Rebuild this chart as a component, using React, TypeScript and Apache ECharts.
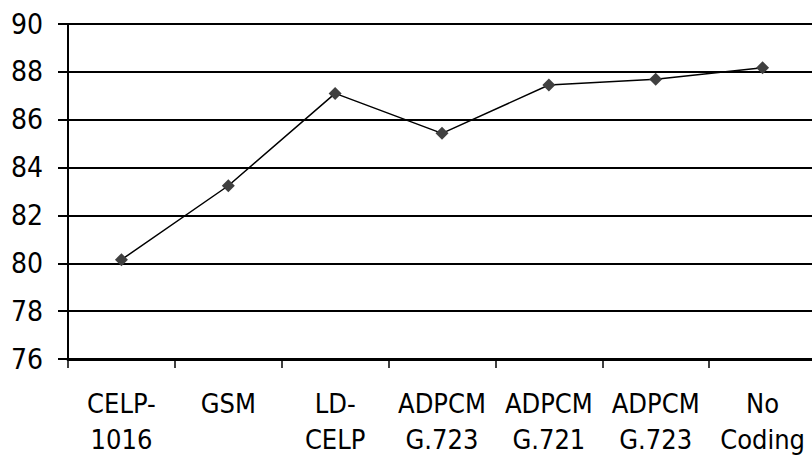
import React, { useEffect, useRef } from "react";
import * as echarts from "echarts";

const categories = [
  "CELP-\n1016",
  "GSM",
  "LD-\nCELP",
  "ADPCM\nG.723",
  "ADPCM\nG.721",
  "ADPCM\nG.723",
  "No\nCoding",
];
const scores = [80.15, 83.24, 87.1, 85.43, 87.45, 87.69, 88.17];
const yMin = 76;
const yMax = 90;
const yStep = 2;

export default function App() {
  const ref = useRef<HTMLDivElement>(null);
  useEffect(() => {
    if (!ref.current) return;
    const chart = echarts.init(ref.current, null, { renderer: "svg" });
    const font = "DejaVu Sans Condensed";
    chart.setOption({
      animation: false,
      backgroundColor: "#ffffff",
      textStyle: { fontFamily: font },
      grid: {
        left: 68,
        top: 24,
        width: 748,
        height: 335,
        containLabel: false,
        outerBoundsMode: "none",
      },
      xAxis: {
        type: "category",
        data: categories,
        boundaryGap: true,
        axisLine: { show: true, lineStyle: { color: "#000", width: 3 } },
        axisTick: { show: true, length: 9, lineStyle: { color: "#000", width: 1.5 } },
        axisLabel: {
          color: "#000",
          fontSize: 27,
          fontFamily: font,
          lineHeight: 36,
          margin: 26,
          interval: 0,
        },
        splitLine: { show: false },
      },
      yAxis: {
        type: "value",
        min: yMin,
        max: yMax,
        interval: yStep,
        axisLine: { show: true, lineStyle: { color: "#000", width: 2 } },
        axisTick: { show: true, length: 10, lineStyle: { color: "#000", width: 2 } },
        axisLabel: { color: "#000", fontSize: 28, fontFamily: font, margin: 25 },
        splitLine: { show: true, lineStyle: { color: "#000", width: 2 } },
      },
      series: [
        {
          type: "line",
          data: scores,
          symbol: "diamond",
          symbolSize: 13,
          itemStyle: { color: "#404040" },
          lineStyle: { color: "#000", width: 1.5 },
          z: 5,
        },
      ],
    });
    return () => chart.dispose();
  }, []);
  return (
    <div
      ref={ref}
      style={{ position: "fixed", left: 0, top: 0, width: 812, height: 457 }}
    />
  );
}
